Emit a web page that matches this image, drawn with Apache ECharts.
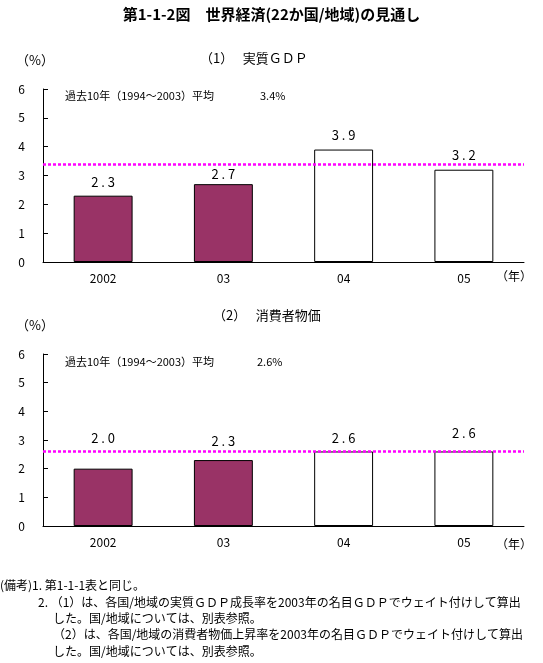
<!DOCTYPE html>
<html>
<head>
<meta charset="utf-8">
<script src="https://cdn.jsdelivr.net/npm/echarts@6/dist/echarts.min.js"></script>
<style>
  html, body { margin: 0; padding: 0; background: #fff; }
  #main { width: 543px; height: 663px; }
</style>
</head>
<body>
<div id="main"></div>
<script>
const years = ["2002", "03", "04", "05"];
const forecast = [false, false, true, true];
const gdp = [2.3, 2.7, 3.9, 3.2];
const cpi = [2.0, 2.3, 2.6, 2.6];
const gdpAvg = 3.4;
const cpiAvg = 2.6;
const yTicks = [0, 1, 2, 3, 4, 5, 6];

const FONT = '"Noto Sans CJK JP", "Noto Sans CJK SC", sans-serif';
const plum = "#993366";
const magenta = "#FF00FF";

// label nudges, picture places them unevenly
const gdpNudge = [-2, 1, -3, -3];
const cpiNudge = [-19, -8, -2, -7];

function barData(values, nudge) {
  return values.map((v, i) => ({
    value: v,
    itemStyle: { color: forecast[i] ? "#fff" : plum },
    label: { offset: [0, nudge[i]] }
  }));
}

function txt(x, y, s, size, extra) {
  return Object.assign({
    type: "text", left: x, top: y,
    style: { text: s, font: size + "px " + FONT, fill: "#000" }
  }, extra || {});
}

const chart = echarts.init(document.getElementById("main"));

function yAxis(grid) {
  return {
    type: "value", gridIndex: grid, min: 0, max: 6, interval: 1,
    splitLine: { show: false },
    axisLine: { show: true, lineStyle: { color: "#000" } },
    axisTick: { show: true, inside: true, length: 5, lineStyle: { color: "#000" } },
    axisLabel: { color: "#000", fontSize: 12, fontFamily: FONT, margin: 18,
      formatter: v => yTicks.includes(v) ? String(v) : "" }
  };
}

function xAxis(grid) {
  return {
    type: "category", gridIndex: grid, data: years,
    splitLine: { show: false },
    axisLine: { lineStyle: { color: "#000", width: 1 } },
    axisTick: { inside: true, length: 4, lineStyle: { color: "#000" } },
    axisLabel: { color: "#000", fontSize: 12, fontFamily: FONT, margin: 10 }
  };
}

function barSeries(idx, values, nudge, avg) {
  return {
    type: "bar", xAxisIndex: idx, yAxisIndex: idx,
    barWidth: "49%",
    data: barData(values, nudge),
    itemStyle: { borderColor: "#000", borderWidth: 1 },
    label: {
      show: true, position: "top", distance: 5,
      color: "#000", fontSize: 13, fontFamily: FONT,
      formatter: p => p.value.toFixed(1).split("").join(" ")
    },
    markLine: {
      silent: true, symbol: "none",
      label: { show: false },
      lineStyle: { color: magenta, type: [3, 2], width: 2.5 },
      data: [{ yAxis: avg }]
    }
  };
}

const title = "第1-1-2図　世界経済(22か国/地域)の見通し";

chart.setOption({
  animation: false,
  grid: [
    { left: 43, right: 19, top: 89, bottom: 401 },
    { left: 43, right: 19, top: 354, bottom: 137 }
  ],
  xAxis: [xAxis(0), xAxis(1)],
  yAxis: [yAxis(0), yAxis(1)],
  series: [
    barSeries(0, gdp, gdpNudge, gdpAvg),
    barSeries(1, cpi, cpiNudge, cpiAvg)
  ],
  graphic: [
    { type: "text", left: "center", top: 7,
      style: { text: title, font: "bold 15px " + FONT, fill: "#000" } },
    txt(200, 52, "（1）　 実質ＧＤＰ", 13),
    txt(16, 54, "（%）", 13),
    txt(65, 90, "過去10年（1994～2003）平均", 11),
    txt(260, 90, "3.4%", 11),
    txt(496, 270, "（年）", 12),

    txt(213, 309, "（2）　 消費者物価", 13),
    txt(16, 319, "（%）", 13),
    txt(65, 356, "過去10年（1994～2003）平均", 11),
    txt(257, 356, "2.6%", 11),
    txt(496, 538, "（年）", 12),

    txt(0, 579, "(備考)1. 第1-1-1表と同じ。", 12),
    txt(38, 596, "2. （1）は、各国/地域の実質ＧＤＰ成長率を2003年の名目ＧＤＰでウェイト付けして算出", 12),
    txt(53, 612, "した。国/地域については、別表参照。", 12),
    txt(53, 628, "（2）は、各国/地域の消費者物価上昇率を2003年の名目ＧＤＰでウェイト付けして算出", 12),
    txt(53, 645, "した。国/地域については、別表参照。", 12)
  ]
});
</script>
</body>
</html>
